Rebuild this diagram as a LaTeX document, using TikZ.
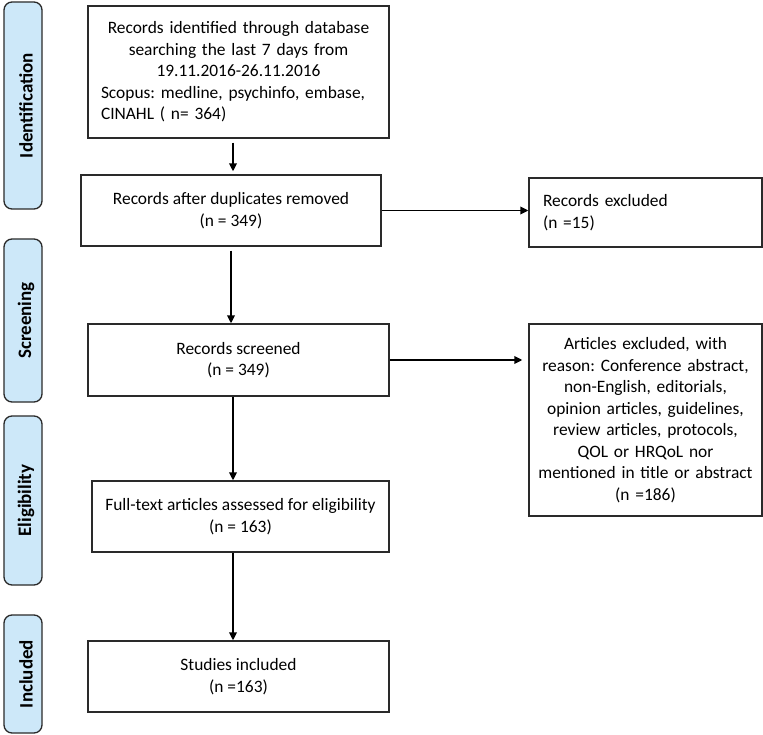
\documentclass[tikz,border=0pt]{standalone}
\usepackage{fontspec}
\setmainfont{Carlito}
\frenchspacing
\usetikzlibrary{arrows.meta}
\definecolor{lblue}{HTML}{CDE8F9}
\definecolor{edge}{HTML}{2A2A2A}
\tikzset{
  box/.style={draw=edge, line width=1.3pt, fill=white, inner ysep=0pt, font=\fontsize{17.4}{21.5}\selectfont},
  phase/.style={draw=edge, line width=1.3pt, fill=lblue, rounded corners=8pt, minimum width=38pt},
  phasetxt/.style={rotate=90, font=\fontsize{19}{21}\selectfont\bfseries, inner sep=0pt},
  arr/.style={-{Triangle[length=8pt,width=7.5pt]}, line width=1.7pt, black},
}
\begin{document}
\begin{tikzpicture}[x=1pt,y=-1pt]
\useasboundingbox (0,0) rectangle (763,735);
% phase labels
\node[phase, minimum height=207pt] (pid) at (23,105.5) {};
\node[phasetxt] (tid) at (26,105.5) {Identification};
\node[phase, minimum height=163pt] (psc) at (23,320.5) {};
\node[phasetxt] (tsc) at (26,320.5) {Screening};
\node[phase, minimum height=169pt] (pel) at (23,500.5) {};
\node[phasetxt] (tel) at (26,500.5) {Eligibility};
\node[phase, minimum height=118pt] (pin) at (23,674) {};
\node[phasetxt] (tin) at (26,674) {Included};
% main boxes
\node[box, minimum width=301pt, minimum height=132pt, text width=275pt, align=left] (b1) at (238.5,72)
 {{\centering Records identified through database\\ searching the last 7 days from\\ 19.11.2016-26.11.2016\par}Scopus: medline, psychinfo, embase,\\ CINAHL ( n= 364)};
\node[box, minimum width=300pt, minimum height=71pt, align=center] (b2) at (231,210.5)
 {Records after duplicates removed\\ (n = 349)};
\node[box, minimum width=301pt, minimum height=72pt, align=center] (b3) at (238.5,360)
 {Records screened\\ (n = 349)};
\node[box, minimum width=297pt, minimum height=71pt, align=center] (b4) at (240.5,516.5)
 {Full-text articles assessed for eligibility\\ (n = 163)};
\node[box, minimum width=301pt, minimum height=71pt, align=center] (b5) at (238.5,676.5)
 {Studies included\\ (n =163)};
% exclusion boxes
\node[box, minimum width=233pt, minimum height=69pt, text width=205pt, inner xsep=14pt, align=left] (e1) at (645.5,212.5)
 {Records excluded\\ (n =15)};
\node[box, minimum width=233pt, minimum height=192pt, text width=219pt, inner xsep=7pt, align=center] (e2) at (645.5,420)
 {Articles excluded, with\\ reason: Conference abstract,\\ non-English, editorials,\\ opinion articles, guidelines,\\ review articles, protocols,\\ QOL or HRQoL nor\\ mentioned in title or abstract\\ (n =186)};
% connectors
\coordinate (ax) at (233,0);
\draw[arr, shorten <=4pt, shorten >=3pt] (b1.south -| ax) -- (b2.north -| ax);
\draw[arr, shorten <=4pt] (b2.south) -- (b3.north -| b2.south);
\draw[arr] (b3.south -| ax) -- (b4.north -| ax);
\draw[arr] (b4.south -| ax) -- (b5.north -| ax);
\draw[arr] (b2.east) -- (b2.east -| e1.west);
\draw[arr, shorten >=6pt] (b3.east) -- (b3.east -| e2.west);
\end{tikzpicture}
\end{document}
